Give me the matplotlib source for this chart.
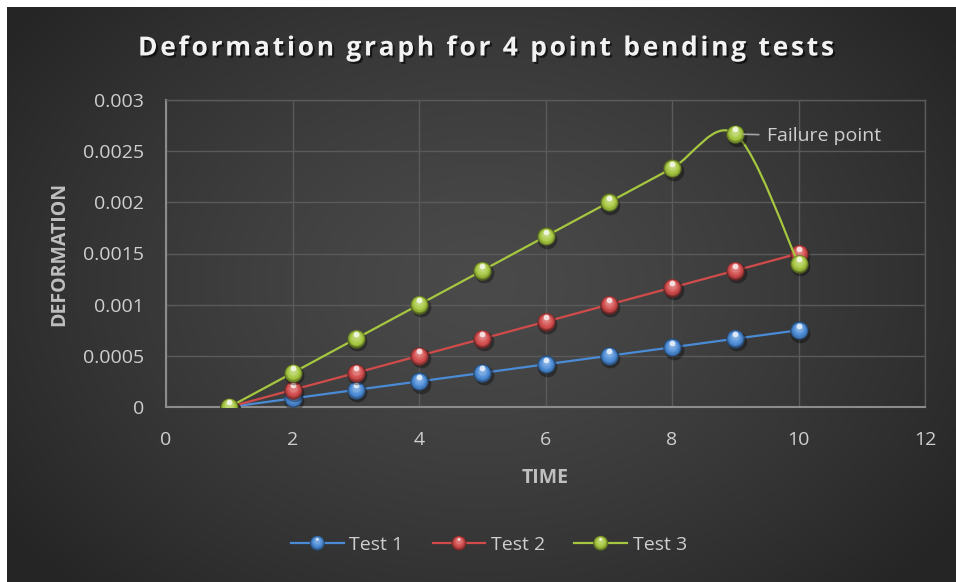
import numpy as np
import matplotlib
matplotlib.use('Agg')
import matplotlib.pyplot as plt
import matplotlib.colors as mcolors
import matplotlib.patheffects as pe
from matplotlib.path import Path
from matplotlib.patches import PathPatch, Circle
from matplotlib.lines import Line2D
from matplotlib.legend_handler import HandlerBase
from matplotlib.transforms import offset_copy
from matplotlib.font_manager import FontProperties

plt.rcParams['font.family'] = ['Open Sans', 'DejaVu Sans']

# data
time = [1, 2, 3, 4, 5, 6, 7, 8, 9, 10]
test1 = [0, 0.0000833, 0.000167, 0.00025, 0.000333, 0.000417, 0.0005, 0.000583, 0.000667, 0.00075]
test2 = [0, 0.000167, 0.000333, 0.0005, 0.000667, 0.000833, 0.001, 0.001167, 0.001333, 0.0015]
test3 = [0, 0.000333, 0.000667, 0.001, 0.001333, 0.001667, 0.002, 0.002333, 0.002667, 0.0014]
series_names = ['Test 1', 'Test 2', 'Test 3']
series_colors = ['#4a8bd6', '#d24b4b', '#a6c73f']
x_ticks = [0, 2, 4, 6, 8, 10, 12]
y_ticks = [0, 0.0005, 0.001, 0.0015, 0.002, 0.0025, 0.003]
y_tick_labels = ['0', '0.0005', '0.001', '0.0015', '0.002', '0.0025', '0.003']
failure_idx = 8
title = 'Deformation graph for 4 point bending tests'

W, H = 956, 582
fig = plt.figure(figsize=(W / 100, H / 100), dpi=100)
fig.patch.set_facecolor('white')

# radial gradient background (chart area leaves a thin white border top/left)
bg = fig.add_axes([7 / W, 0, 1 - 7 / W, 1 - 7 / H], zorder=-10)
gy, gx = np.mgrid[0:1:300j, 0:1:500j]
d = np.sqrt(((gx - 0.5) / 0.62) ** 2 + ((gy - 0.52) / 0.75) ** 2)
d = np.clip(d, 0, 1) ** 1.3
c_in = np.array(mcolors.to_rgb('#4a4a4a'))
c_out = np.array(mcolors.to_rgb('#252525'))
img = c_in[None, None, :] * (1 - d[..., None]) + c_out[None, None, :] * d[..., None]
bg.imshow(img, aspect='auto', extent=[0, 1, 0, 1], origin='lower')
bg.axis('off')

ax = fig.add_axes([166 / W, 1 - 407 / H, (925 - 166) / W, (407 - 100) / H])
ax.set_facecolor('none')
ax.set_xlim(0, 12)
ax.set_ylim(0, 0.003)
ax.set_xticks(x_ticks)
ax.set_yticks(y_ticks)
ax.set_yticklabels(y_tick_labels)
ax.grid(True, color='#5a5a5a', lw=1)
ax.set_axisbelow(True)
for s in ['top', 'right']:
    ax.spines[s].set_color('#5a5a5a')
    ax.spines[s].set_linewidth(1)
for s in ['left', 'bottom']:
    ax.spines[s].set_color('#8c8c8c')
    ax.spines[s].set_linewidth(1.5)
ax.tick_params(length=0, labelsize=14, labelcolor='#cfcfcf')
ax.tick_params(axis='y', pad=16)
ax.tick_params(axis='x', pad=17)
ax.set_xlabel('TIME', fontsize=14, fontweight='bold', color='#bfbfbf', labelpad=14)
ax.set_ylabel('DEFORMATION', fontsize=14, fontweight='bold', color='#bfbfbf', labelpad=10)


def shade(color, f):
    c = np.array(mcolors.to_rgb(color))
    if f < 0:
        return tuple(c * (1 + f))
    return tuple(c + (1 - c) * f)


def draw_spheres(x, y, color, z, size=175):
    r = np.sqrt(size) / 2 * 100 / 72  # radius in pixels
    sh = offset_copy(ax.transData, fig=fig, x=1.5, y=-2.5, units='dots')
    ax.scatter(x, y, s=size * 1.15, color='black', alpha=0.35, lw=0, transform=sh, zorder=z)
    ax.scatter(x, y, s=size, color=shade(color, -0.5), lw=0, zorder=z)
    steps = [(0.92, -0.3), (0.82, -0.1), (0.7, 0.02), (0.56, 0.14), (0.42, 0.27)]
    for f, lt in steps:
        tr = offset_copy(ax.transData, fig=fig, x=0, y=(1 - f) * r * 0.45, units='dots')
        ax.scatter(x, y, s=size * f * f, color=shade(color, lt), lw=0, transform=tr, zorder=z)
    hl = offset_copy(ax.transData, fig=fig, x=0, y=r * 0.5, units='dots')
    ax.scatter(x, y, s=size * 0.1, color='white', alpha=0.75, lw=0, transform=hl, zorder=z)


def smooth_path(xs, ys):
    # cubic Bezier through points, control points from neighbouring points
    pts = np.column_stack([xs, ys]).astype(float)
    n = len(pts)
    verts = [pts[0]]
    codes = [Path.MOVETO]
    for i in range(n - 1):
        p0 = pts[max(i - 1, 0)]
        p1 = pts[i]
        p2 = pts[i + 1]
        p3 = pts[min(i + 2, n - 1)]
        verts += [p1 + (p2 - p0) / 6, p2 - (p3 - p1) / 6, p2]
        codes += [Path.CURVE4] * 3
    return Path(verts, codes)


all_series = [test1, test2, test3]
for k, (vals, color) in enumerate(zip(all_series, series_colors)):
    z = 3 + k
    if k == 2:
        ax.add_patch(PathPatch(smooth_path(time, vals), fill=False, edgecolor=color, lw=1.6, zorder=z))
    else:
        ax.plot(time, vals, color=color, lw=1.6, zorder=z)
    draw_spheres(time, vals, color, z)

ax.annotate('Failure point', xy=(time[failure_idx], test3[failure_idx]), xytext=(23, -1.5),
            textcoords='offset points', va='center', ha='left', fontsize=14, color='#cfcfcf',
            arrowprops=dict(arrowstyle='-', color='#a6a6a6', lw=1.2, shrinkA=4, shrinkB=6),
            zorder=10)

# title with extra letter spacing, laid out char by char
renderer = fig.canvas.get_renderer()
tprop = FontProperties(family=['Open Sans', 'DejaVu Sans'], weight='bold', size=19)
widths = [renderer.get_text_width_height_descent(ch if ch != ' ' else '\u00a0', tprop, ismath=False)[0]
          for ch in title]
target = 696
spacing = (target - sum(widths)) / (len(title) - 1)
xpos = 486 - target / 2
shadow = [pe.withSimplePatchShadow(offset=(1.5, -1.5), shadow_rgbFace='black', alpha=0.6)]
for ch, w in zip(title, widths):
    if ch != ' ':
        fig.text(xpos / W, 1 - 48 / H, ch, ha='left', va='center', fontproperties=tprop,
                 color='#f2f2f2', path_effects=shadow)
    xpos += w + spacing


class SphereHandler(HandlerBase):
    def create_artists(self, legend, orig_handle, xdescent, ydescent, width, height, fontsize, trans):
        color = orig_handle.get_color()
        yc = height / 2 - ydescent
        xc = width / 2 - xdescent
        arts = [Line2D([-xdescent, width - xdescent], [yc, yc], color=color, lw=1.6, transform=trans)]
        r = 5.4
        arts.append(Circle((xc, yc), r, facecolor=shade(color, -0.5), edgecolor='none', transform=trans))
        for f, lt in [(0.9, -0.25), (0.75, -0.05), (0.6, 0.08), (0.42, 0.22)]:
            arts.append(Circle((xc, yc + (1 - f) * r * 0.45), r * f, facecolor=shade(color, lt),
                               edgecolor='none', transform=trans))
        arts.append(Circle((xc, yc + r * 0.5), r * 0.2, facecolor='white', alpha=0.7,
                           edgecolor='none', transform=trans))
        return arts


handles = [Line2D([], [], color=c) for c in series_colors]
fig.legend(handles, series_names, loc='center', bbox_to_anchor=(489 / W, 1 - 545 / H), ncol=3,
           frameon=False, fontsize=14, labelcolor='#cfcfcf', handlelength=2.7, handletextpad=0.3,
           columnspacing=1.5, handler_map={Line2D: SphereHandler()})

fig.savefig('out.png', dpi=100, facecolor=fig.get_facecolor())
